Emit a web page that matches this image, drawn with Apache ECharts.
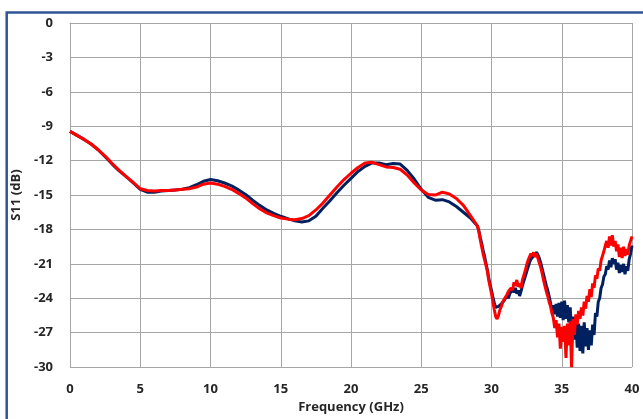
<!DOCTYPE html>
<html>
<head>
<meta charset="utf-8">
<script src="https://cdn.jsdelivr.net/npm/echarts@6/dist/echarts.min.js"></script>
<style>
html,body{margin:0;padding:0;background:#fff;}
#chart{width:643px;height:419px;}
</style>
</head>
<body>
<div id="chart"></div>
<script>
// Frequency (GHz)
const freq = [
0,0.5,1,1.5,2,2.5,3,3.5,4,4.5,5,5.5,6,6.5,7,7.5,8,8.5,9,9.5,
10,10.5,11,11.5,12,12.5,13,13.5,14,14.5,15,15.5,16,16.5,17,17.5,18,18.5,19,19.5,
20,20.5,21,21.5,22,22.5,23,23.5,24,24.5,25,25.5,26,26.5,27,27.5,28,28.5,
29.0,29.1,29.2,29.3,29.4,29.5,29.6,29.7,29.8,29.9,
30.0,30.1,30.2,30.3,30.4,30.5,30.6,30.7,30.8,30.9,
31.0,31.1,31.2,31.3,31.4,31.5,31.6,31.7,31.8,31.9,
32.0,32.1,32.2,32.3,32.4,32.5,32.6,32.7,32.8,32.9,
33.0,33.1,33.2,33.3,33.4,33.5,33.6,33.7,33.8,33.9,
34.0,34.1,34.2,34.3,34.4,34.5,34.6,34.7,34.8,34.9,
35.0,35.1,35.2,35.3,35.4,35.5,35.6,35.7,35.8,35.9,
36.0,36.1,36.2,36.3,36.4,36.5,36.6,36.7,36.8,36.9,
37.0,37.1,37.2,37.3,37.4,37.5,37.6,37.7,37.8,37.9,
38.0,38.1,38.2,38.3,38.4,38.5,38.6,38.7,38.8,38.9,
39.0,39.1,39.2,39.3,39.4,39.5,39.6,39.7,39.8,39.9,
40.0
];
// S11 (dB), navy trace
const s11Navy = [
-9.45,-9.8,-10.15,-10.55,-11.05,-11.65,-12.3,-12.9,-13.4,-13.95,-14.5,-14.75,-14.75,-14.65,-14.6,-14.55,-14.5,-14.35,-14.1,-13.8,
-13.65,-13.75,-13.95,-14.2,-14.55,-14.95,-15.45,-15.9,-16.3,-16.6,-16.85,-17.05,-17.25,-17.35,-17.25,-16.85,-16.15,-15.5,-14.8,-14.15,
-13.55,-12.95,-12.5,-12.2,-12.2,-12.35,-12.25,-12.3,-12.85,-13.6,-14.5,-15.2,-15.45,-15.4,-15.6,-16.0,-16.5,-17.0,
-17.7,-18.1,-18.7,-19.2,-19.8,-20.3,-20.9,-21.5,-22.2,-22.8,
-23.3,-23.9,-24.4,-24.8,-24.9,-24.7,-24.8,-24.5,-24.6,-24.2,
-24.3,-23.8,-24.0,-23.6,-23.7,-23.2,-23.5,-23.1,-23.6,-23.3,
-23.8,-23.4,-22.9,-22.5,-22.1,-21.7,-21.3,-20.9,-20.6,-20.7,
-20.3,-20.4,-20.0,-20.2,-20.5,-20.9,-21.4,-21.9,-22.4,-22.9,
-23.3,-23.8,-24.4,-25.1,-24.6,-25.4,-24.5,-25.6,-24.4,-25.7,
-24.3,-25.9,-24.2,-25.8,-24.6,-26.1,-24.8,-26.9,-25.6,-27.6,
-25.9,-28.3,-26.2,-28.6,-26.4,-28.8,-26.1,-28.2,-26.6,-28.5,
-26.8,-28.1,-26.3,-27.2,-25.3,-25.6,-24.3,-24.0,-23.1,-22.8,
-22.1,-21.9,-21.2,-21.5,-20.7,-21.3,-20.5,-21.0,-20.6,-21.5,
-20.9,-21.8,-21.1,-21.7,-21.0,-21.9,-21.2,-21.6,-20.6,-20.1,
-19.4
];
// S11 (dB), red trace
const s11Red = [
-9.45,-9.8,-10.15,-10.55,-11.05,-11.6,-12.25,-12.85,-13.4,-13.9,-14.45,-14.6,-14.65,-14.6,-14.6,-14.55,-14.5,-14.45,-14.3,-14.05,
-13.95,-14.05,-14.25,-14.5,-14.85,-15.25,-15.75,-16.2,-16.55,-16.8,-17.0,-17.1,-17.15,-17.05,-16.8,-16.3,-15.7,-15.0,-14.3,-13.65,
-13.1,-12.6,-12.2,-12.15,-12.35,-12.55,-12.6,-12.75,-13.25,-13.95,-14.55,-14.95,-15.0,-14.75,-14.9,-15.3,-15.9,-16.8,
-17.7,-18.2,-18.9,-19.5,-20.1,-20.6,-21.1,-21.6,-22.4,-23.0,
-23.6,-24.3,-25.0,-25.6,-25.8,-25.5,-25.0,-24.7,-24.3,-24.4,
-23.9,-23.7,-23.4,-23.5,-23.1,-23.3,-22.6,-22.9,-22.4,-23.0,
-22.7,-23.1,-22.4,-22.0,-21.6,-21.1,-20.7,-20.4,-20.1,-20.3,
-20.0,-20.4,-20.1,-20.5,-20.9,-21.3,-21.8,-22.4,-22.9,-23.4,
-23.8,-24.3,-24.7,-25.3,-25.7,-26.6,-25.9,-27.4,-26.2,-28.4,
-26.5,-27.8,-26.4,-29.2,-26.2,-28.1,-26.0,-30.0,-25.8,-27.2,
-25.4,-26.3,-25.1,-25.8,-24.8,-25.5,-24.3,-24.9,-23.8,-24.3,
-23.2,-23.9,-22.7,-23.1,-22.0,-22.3,-21.4,-21.6,-20.7,-20.8,
-19.9,-19.4,-19.0,-19.6,-18.6,-19.4,-18.5,-19.5,-19.0,-19.9,
-19.3,-20.4,-19.6,-20.5,-19.5,-20.3,-19.7,-20.2,-19.4,-19.0,
-18.6
];
const xTicks = {min: 0, max: 40, step: 5};
const yTicks = {min: -30, max: 0, step: 3};

const navyData = freq.map((f, i) => [f, s11Navy[i]]);
const redData = freq.map((f, i) => [f, s11Red[i]]);

const labelFont = {fontFamily: '"Open Sans", sans-serif', fontWeight: 'bold', fontSize: 13, color: '#262626'};
const chart = echarts.init(document.getElementById('chart'), null, {renderer: 'canvas'});
chart.setOption({
  animation: false,
  backgroundColor: '#ffffff',
  grid: {left: 70, right: 11, top: 23, bottom: 48, containLabel: false},
  graphic: [{
    type: 'rect', silent: true, z: 100,
    shape: {x: 6.7, y: 12.5, width: 700, height: 500},
    style: {fill: 'none', stroke: '#2F5597', lineWidth: 2.5}
  }],
  xAxis: {
    type: 'value', min: xTicks.min, max: xTicks.max, interval: xTicks.step,
    name: 'Frequency (GHz)', nameLocation: 'middle', nameGap: 32,
    nameTextStyle: Object.assign({}, labelFont),
    axisLine: {show: true, lineStyle: {color: '#A6A6A6', width: 1}},
    axisTick: {show: false},
    axisLabel: Object.assign({margin: 16}, labelFont),
    splitLine: {show: true, lineStyle: {color: '#A6A6A6', width: 1}}
  },
  yAxis: {
    type: 'value', min: yTicks.min, max: yTicks.max, interval: yTicks.step,
    name: 'S11 (dB)', nameLocation: 'middle', nameGap: 41,
    nameTextStyle: Object.assign({}, labelFont),
    axisLine: {show: true, lineStyle: {color: '#A6A6A6', width: 1}},
    axisTick: {show: false},
    axisLabel: Object.assign({margin: 17}, labelFont),
    splitLine: {show: true, lineStyle: {color: '#A6A6A6', width: 1}}
  },
  series: [
    {type: 'line', data: navyData, showSymbol: false, smooth: false,
     lineStyle: {color: '#002060', width: 3}, itemStyle: {color: '#002060'}},
    {type: 'line', data: redData, showSymbol: false, smooth: false,
     lineStyle: {color: '#FF0000', width: 3}, itemStyle: {color: '#FF0000'}}
  ]
});
</script>
</body>
</html>
